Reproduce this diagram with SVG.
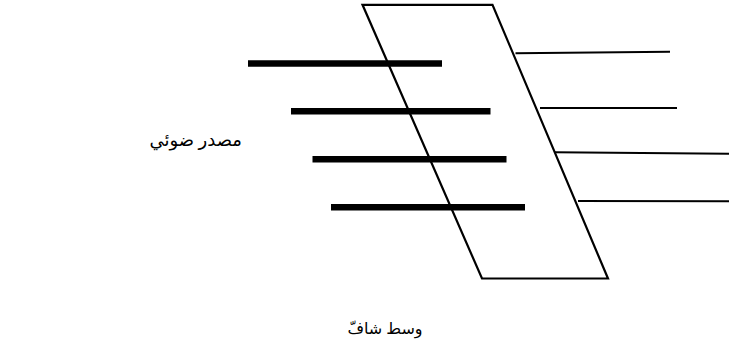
<svg xmlns="http://www.w3.org/2000/svg" width="729" height="360" viewBox="0 0 729 360">
<style>
.thick{stroke:#000;stroke-width:6.5;fill:none}
.thin{stroke:#000;stroke-width:2;fill:none}
.med{stroke:#000;stroke-width:2.2;fill:none;stroke-linejoin:miter}
.lbl{font-family:"Liberation Serif","DejaVu Sans",serif;fill:#000}
</style>
<rect width="729" height="360" fill="#fff"/>
<g id="medium">
<polygon class="med" points="362.5,4.8 492.5,4.8 608,278.5 482,278.5"/>
</g>
<g id="connectors">
<line class="thick" x1="248" y1="63.5" x2="442" y2="63.5"/>
<line class="thick" x1="291" y1="111.3" x2="490.5" y2="111.3"/>
<line class="thick" x1="312.5" y1="159.3" x2="506.5" y2="159.3"/>
<line class="thick" x1="331" y1="207.3" x2="525" y2="207.3"/>
<line class="thin" x1="515.5" y1="53.3" x2="670" y2="51.7"/>
<line class="thin" x1="540" y1="108" x2="677" y2="108"/>
<line class="thin" x1="555" y1="152.3" x2="729" y2="153.7"/>
<line class="thin" x1="578" y1="201" x2="729" y2="201.3"/>
</g>
<g id="label-source">
<text class="lbl" x="242" y="146" font-size="18" text-anchor="end">مصدر ضوئي</text>
</g>
<g id="label-medium">
<text class="lbl" x="385" y="334" font-size="16" text-anchor="middle">وسط شافّ</text>
</g>
</svg>
